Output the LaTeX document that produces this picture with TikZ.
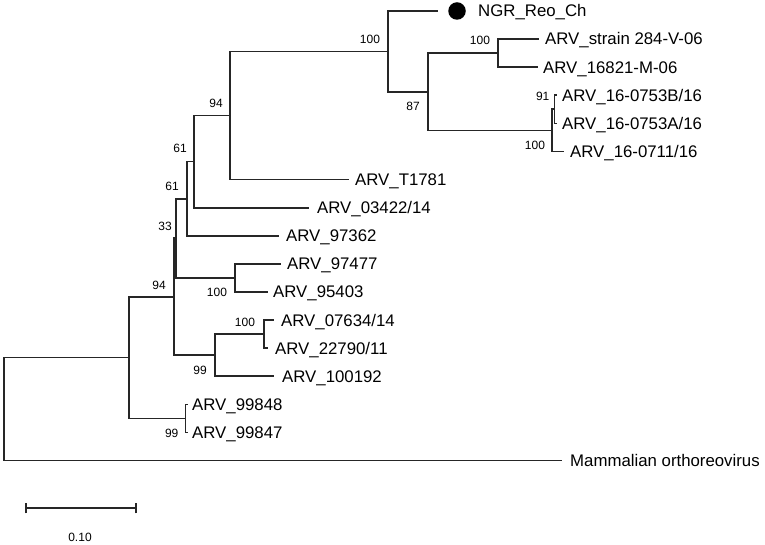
\documentclass[tikz,border=0pt]{standalone}
\usepackage{fontspec}
\setmainfont{Liberation Sans}
\begin{document}
\begin{tikzpicture}[x=1pt,y=-1pt,
  br/.style={draw=black!85,line width=1.7pt,line cap=rect},
  leaf/.style={anchor=base west,inner sep=0pt,font=\fontsize{16.8}{18}\selectfont},
  boot/.style={inner sep=0pt,font=\fontsize{12}{14}\selectfont},
  tipdot/.style={circle,fill=black,inner sep=0pt,minimum size=17.5pt}]
\useasboundingbox (0,0) rectangle (765,545);
% internal nodes
\coordinate (root) at (4,409.1);
\coordinate (A) at (129,357.6);
\coordinate (B) at (174,296.8);
\coordinate (H) at (176,238.3);
\coordinate (J) at (186.7,198.7);
\coordinate (K) at (194,161.6);
\coordinate (L) at (230,115.5);
\coordinate (M) at (388,51.4);
\coordinate (N) at (428,91.8);
\coordinate (O) at (498,53.2);
\coordinate (P) at (552,130.4);
\coordinate (Q) at (554.5,109.2);
\coordinate (F) at (235,278);
\coordinate (D) at (215,355.2);
\coordinate (E) at (264,334.2);
\coordinate (C) at (185.5,418.5);
% leaf tips
\coordinate (tNGR) at (437,11);
\coordinate (tStr) at (538,39.1);
\coordinate (t16821) at (537,67.2);
\coordinate (tB16) at (556.5,95.3);
\coordinate (tA16) at (556.5,123.4);
\coordinate (t0711) at (563,151.5);
\coordinate (tT1781) at (348,179.6);
\coordinate (t03422) at (308,207.7);
\coordinate (t97362) at (278,235.8);
\coordinate (t97477) at (280,263.9);
\coordinate (t95403) at (267,292);
\coordinate (t07634) at (273,320.1);
\coordinate (t22790) at (267,348.2);
\coordinate (t100192) at (273,376.3);
\coordinate (t99848) at (187.5,404.4);
\coordinate (t99847) at (187.5,432.5);
\coordinate (tMam) at (561,460.6);
% branches
\draw[br] (root) |- (A);
\draw[br] (root) |- (tMam);
\draw[br] (A) |- (B);
\draw[br] (A) |- (C);
\draw[br] (B) |- (H);
\draw[br] (B) |- (D);
\draw[br] (H) |- (J);
\draw[br] (H) |- (F);
\draw[br] (J) |- (K);
\draw[br] (J) |- (t97362);
\draw[br] (K) |- (L);
\draw[br] (K) |- (t03422);
\draw[br] (L) |- (M);
\draw[br] (L) |- (tT1781);
\draw[br] (M) |- (tNGR);
\draw[br] (M) |- (N);
\draw[br] (N) |- (O);
\draw[br] (N) |- (P);
\draw[br] (O) |- (tStr);
\draw[br] (O) |- (t16821);
\draw[br] (P) |- (Q);
\draw[br] (P) |- (t0711);
\draw[br] (Q) |- (tB16);
\draw[br] (Q) |- (tA16);
\draw[br] (F) |- (t97477);
\draw[br] (F) |- (t95403);
\draw[br] (D) |- (E);
\draw[br] (D) |- (t100192);
\draw[br] (E) |- (t07634);
\draw[br] (E) |- (t22790);
\draw[br] (C) |- (t99848);
\draw[br] (C) |- (t99847);
% marker
\node[tipdot] (dot) at (457,11) {};
% leaf labels
\node[leaf] (lNGR) at (478,16.9) {NGR\_Reo\_Ch};
\node[leaf] (lStr) at (545,45) {ARV\_strain 284-V-06};
\node[leaf] (l16821) at (543,73.1) {ARV\_16821-M-06};
\node[leaf] (lB16) at (562,101.2) {ARV\_16-0753B/16};
\node[leaf] (lA16) at (562,129.3) {ARV\_16-0753A/16};
\node[leaf] (l0711) at (570,157.4) {ARV\_16-0711/16};
\node[leaf] (lT1781) at (355,185.5) {ARV\_T1781};
\node[leaf] (l03422) at (317,213.6) {ARV\_03422/14};
\node[leaf] (l97362) at (286,241.7) {ARV\_97362};
\node[leaf] (l97477) at (287,269.8) {ARV\_97477};
\node[leaf] (l95403) at (273,297.9) {ARV\_95403};
\node[leaf] (l07634) at (281,326) {ARV\_07634/14};
\node[leaf] (l22790) at (275,354.1) {ARV\_22790/11};
\node[leaf] (l100192) at (282,382.2) {ARV\_100192};
\node[leaf] (l99848) at (192,410.3) {ARV\_99848};
\node[leaf] (l99847) at (192,438.4) {ARV\_99847};
\node[leaf] (lMam) at (570,466.5) {Mammalian orthoreovirus};
% bootstrap values
\node[boot] (bM) at (370,39) {100};
\node[boot] (bO) at (480,40.7) {100};
\node[boot] (bN) at (413,106) {87};
\node[boot] (bQ) at (542.7,96.7) {91};
\node[boot] (bP) at (535,145) {100};
\node[boot] (bL) at (216,103) {94};
\node[boot] (bK) at (180,148) {61};
\node[boot] (bJ) at (172,186) {61};
\node[boot] (bH) at (165,226) {33};
\node[boot] (bB) at (159,285) {94};
\node[boot] (bF) at (217,292.7) {100};
\node[boot] (bE) at (245,322.7) {100};
\node[boot] (bD) at (200,370) {99};
\node[boot] (bC) at (171.7,433.3) {99};
% scale bar
\coordinate (sb1) at (25.7,508.3);
\coordinate (sb2) at (136,508.3);
\draw[br,line cap=butt] (sb1) -- (sb2);
\draw[br,line cap=butt] ([yshift=-5]sb1) -- ([yshift=5]sb1);
\draw[br,line cap=butt] ([yshift=-5]sb2) -- ([yshift=5]sb2);
\node[boot] (sbl) at (80,537.7) {0.10};
\end{tikzpicture}
\end{document}
